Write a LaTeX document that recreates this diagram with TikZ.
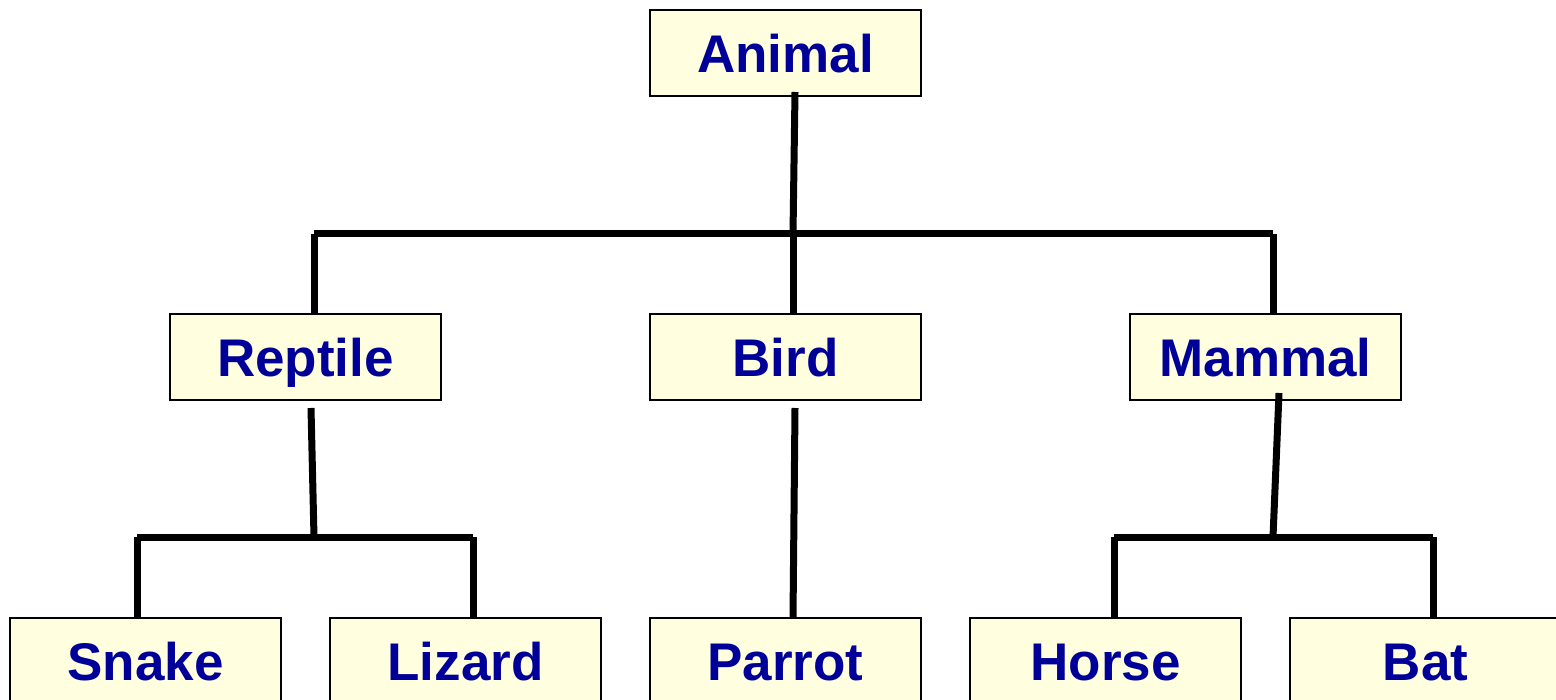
\documentclass[tikz,border=0pt]{standalone}
\usepackage{fontspec}
\setmainfont{Liberation Sans}
\definecolor{boxfill}{HTML}{FFFFE0}
\definecolor{txtblue}{HTML}{000099}
\begin{document}
\begin{tikzpicture}[x=1pt,y=-1pt,
  tbox/.style={draw=black, line width=2pt, fill=boxfill, minimum width=271pt, minimum height=86pt,
    inner sep=0pt, text height=39pt, text depth=0pt, text=txtblue,
    font=\fontsize{53}{60}\selectfont\bfseries},
  conn/.style={line width=7pt, draw=black}]
\clip (0,0) rectangle (1556,700);
\fill[white] (0,0) rectangle (1556,700);
% nodes
\node[tbox] (animal) at (785.5,53) {Animal};
\node[tbox] (reptile) at (305.5,357) {Reptile};
\node[tbox] (bird) at (785.5,357) {Bird};
\node[tbox] (mammal) at (1265.5,357) {Mammal};
\node[tbox] (snake) at (145.5,661) {Snake};
\node[tbox] (lizard) at (465.5,661) {Lizard};
\node[tbox] (parrot) at (785.5,661) {Parrot};
\node[tbox] (horse) at (1105.5,661) {Horse};
\node[tbox] (bat) at (1425.5,661) {Bat};
% coordinates
\coordinate (a0) at (795,92);
\coordinate (a1) at (793,234);
\coordinate (hl) at (314,234);
\coordinate (hr) at (1273,234);
\coordinate (rt) at (314,314);
\coordinate (bt) at (793,314);
\coordinate (mt) at (1273,314);
\coordinate (r0) at (311,408);
\coordinate (r1) at (314,537);
\coordinate (rl) at (137,537);
\coordinate (rr) at (473,537);
\coordinate (st) at (137,618);
\coordinate (lt) at (473,618);
\coordinate (b0) at (795,408);
\coordinate (pt) at (793,618);
\coordinate (m0) at (1279,393);
\coordinate (m1) at (1273,537);
\coordinate (ml) at (1114,537);
\coordinate (mr) at (1433,537);
\coordinate (ht) at (1114,618);
\coordinate (bat0) at (1433,618);
% connectors
\draw[conn] (a0) -- (a1);
\draw[conn] (hl) -- (hr);
\draw[conn] (hl) -- (rt);
\draw[conn] (a1) -- (bt);
\draw[conn] (hr) -- (mt);
\draw[conn] (r0) -- (r1);
\draw[conn] (rl) -- (rr);
\draw[conn] (rl) -- (st);
\draw[conn] (rr) -- (lt);
\draw[conn] (b0) -- (pt);
\draw[conn] (m0) -- (m1);
\draw[conn] (ml) -- (mr);
\draw[conn] (ml) -- (ht);
\draw[conn] (mr) -- (bat0);
\end{tikzpicture}
\end{document}
